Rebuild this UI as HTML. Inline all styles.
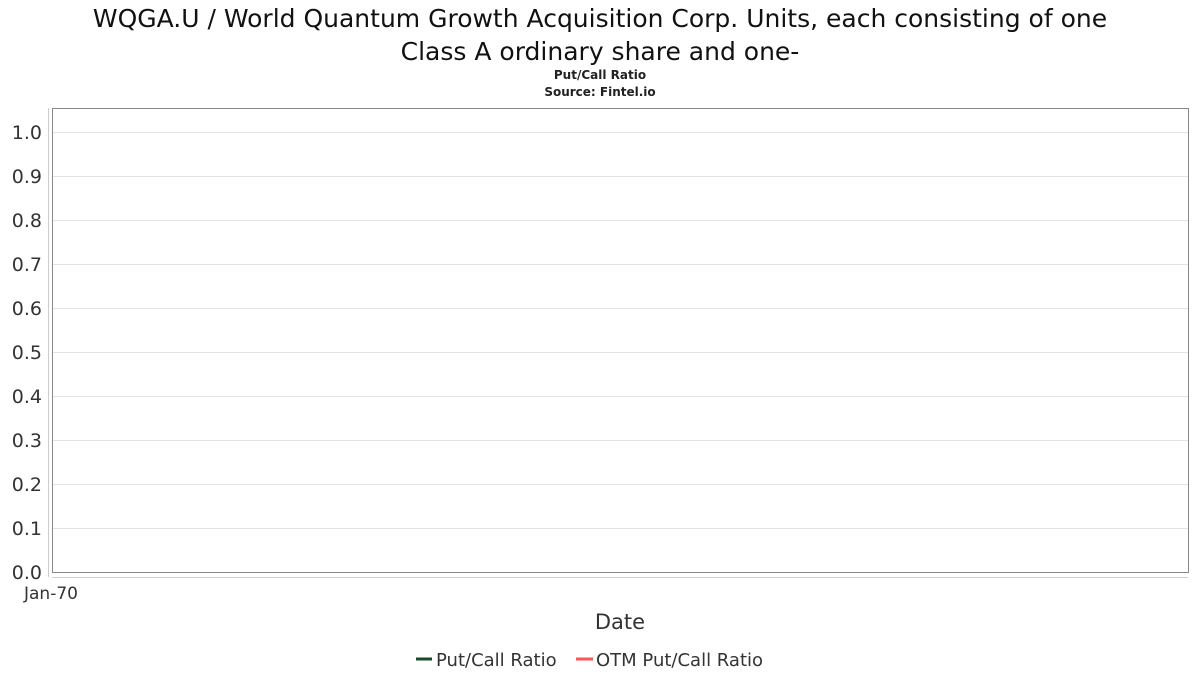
<!DOCTYPE html>
<html><head><meta charset="utf-8"><style>
body{margin:0;background:#fff;}
svg{display:block;font-family:"DejaVu Sans","Liberation Sans",sans-serif;}
</style></head><body>
<svg id="chart" width="1200" height="675" viewBox="0 0 1200 675">
<text x="600" y="27" text-anchor="middle" font-size="25" fill="#111">WQGA.U / World Quantum Growth Acquisition Corp. Units, each consisting of one</text>
<text x="600" y="60" text-anchor="middle" font-size="25" fill="#111">Class A ordinary share and one-</text>
<text x="600" y="79" text-anchor="middle" font-size="12" font-weight="bold" fill="#222">Put/Call Ratio</text>
<text x="600" y="96" text-anchor="middle" font-size="12" font-weight="bold" fill="#222">Source: Fintel.io</text>
<g id="grid"></g>
<rect x="52.5" y="108.5" width="1136" height="464" fill="none" stroke="#888"/>
<line x1="48.5" y1="108" x2="48.5" y2="577" stroke="#ccc"/>
<line x1="52" y1="577.5" x2="1188" y2="577.5" stroke="#ccc"/>
<g id="yticks"></g>
<text x="51" y="599" text-anchor="middle" font-size="17" fill="#333">Jan-70</text>
<text x="620" y="629" text-anchor="middle" font-size="21" fill="#333">Date</text>
<g>
<line x1="416" y1="659" x2="432" y2="659" stroke="#1a4a2a" stroke-width="3"/>
<text x="436" y="666" font-size="18" fill="#333">Put/Call Ratio</text>
</g>
<g>
<line x1="576" y1="659" x2="593" y2="659" stroke="#ff5555" stroke-width="3"/>
<text x="596" y="666" font-size="18" fill="#333">OTM Put/Call Ratio</text>
</g>
</svg>
<script>
const yTickValues=[0,0.1,0.2,0.3,0.4,0.5,0.6,0.7,0.8,0.9,1.0];
const putCallRatio=[];
const otmPutCallRatio=[];
const NS="http://www.w3.org/2000/svg";
function yScale(v){return 572-v*440;}
const grid=document.getElementById('grid'),yt=document.getElementById('yticks');
yTickValues.forEach(v=>{
  const y=Math.round(yScale(v))+0.5;
  if(v>0){const l=document.createElementNS(NS,'line');
  l.setAttribute('x1',53);l.setAttribute('x2',1188);l.setAttribute('y1',y);l.setAttribute('y2',y);
  l.setAttribute('stroke','#e3e3e3');
  
  
  grid.appendChild(l);}
  const t=document.createElementNS(NS,'text');
  t.setAttribute('x',42);t.setAttribute('y',yScale(v)+7);t.setAttribute('text-anchor','end');
  t.setAttribute('font-size','19');t.setAttribute('fill','#333');t.textContent=v.toFixed(1);
  
  
  yt.appendChild(t);
});
</script>
</body></html>
